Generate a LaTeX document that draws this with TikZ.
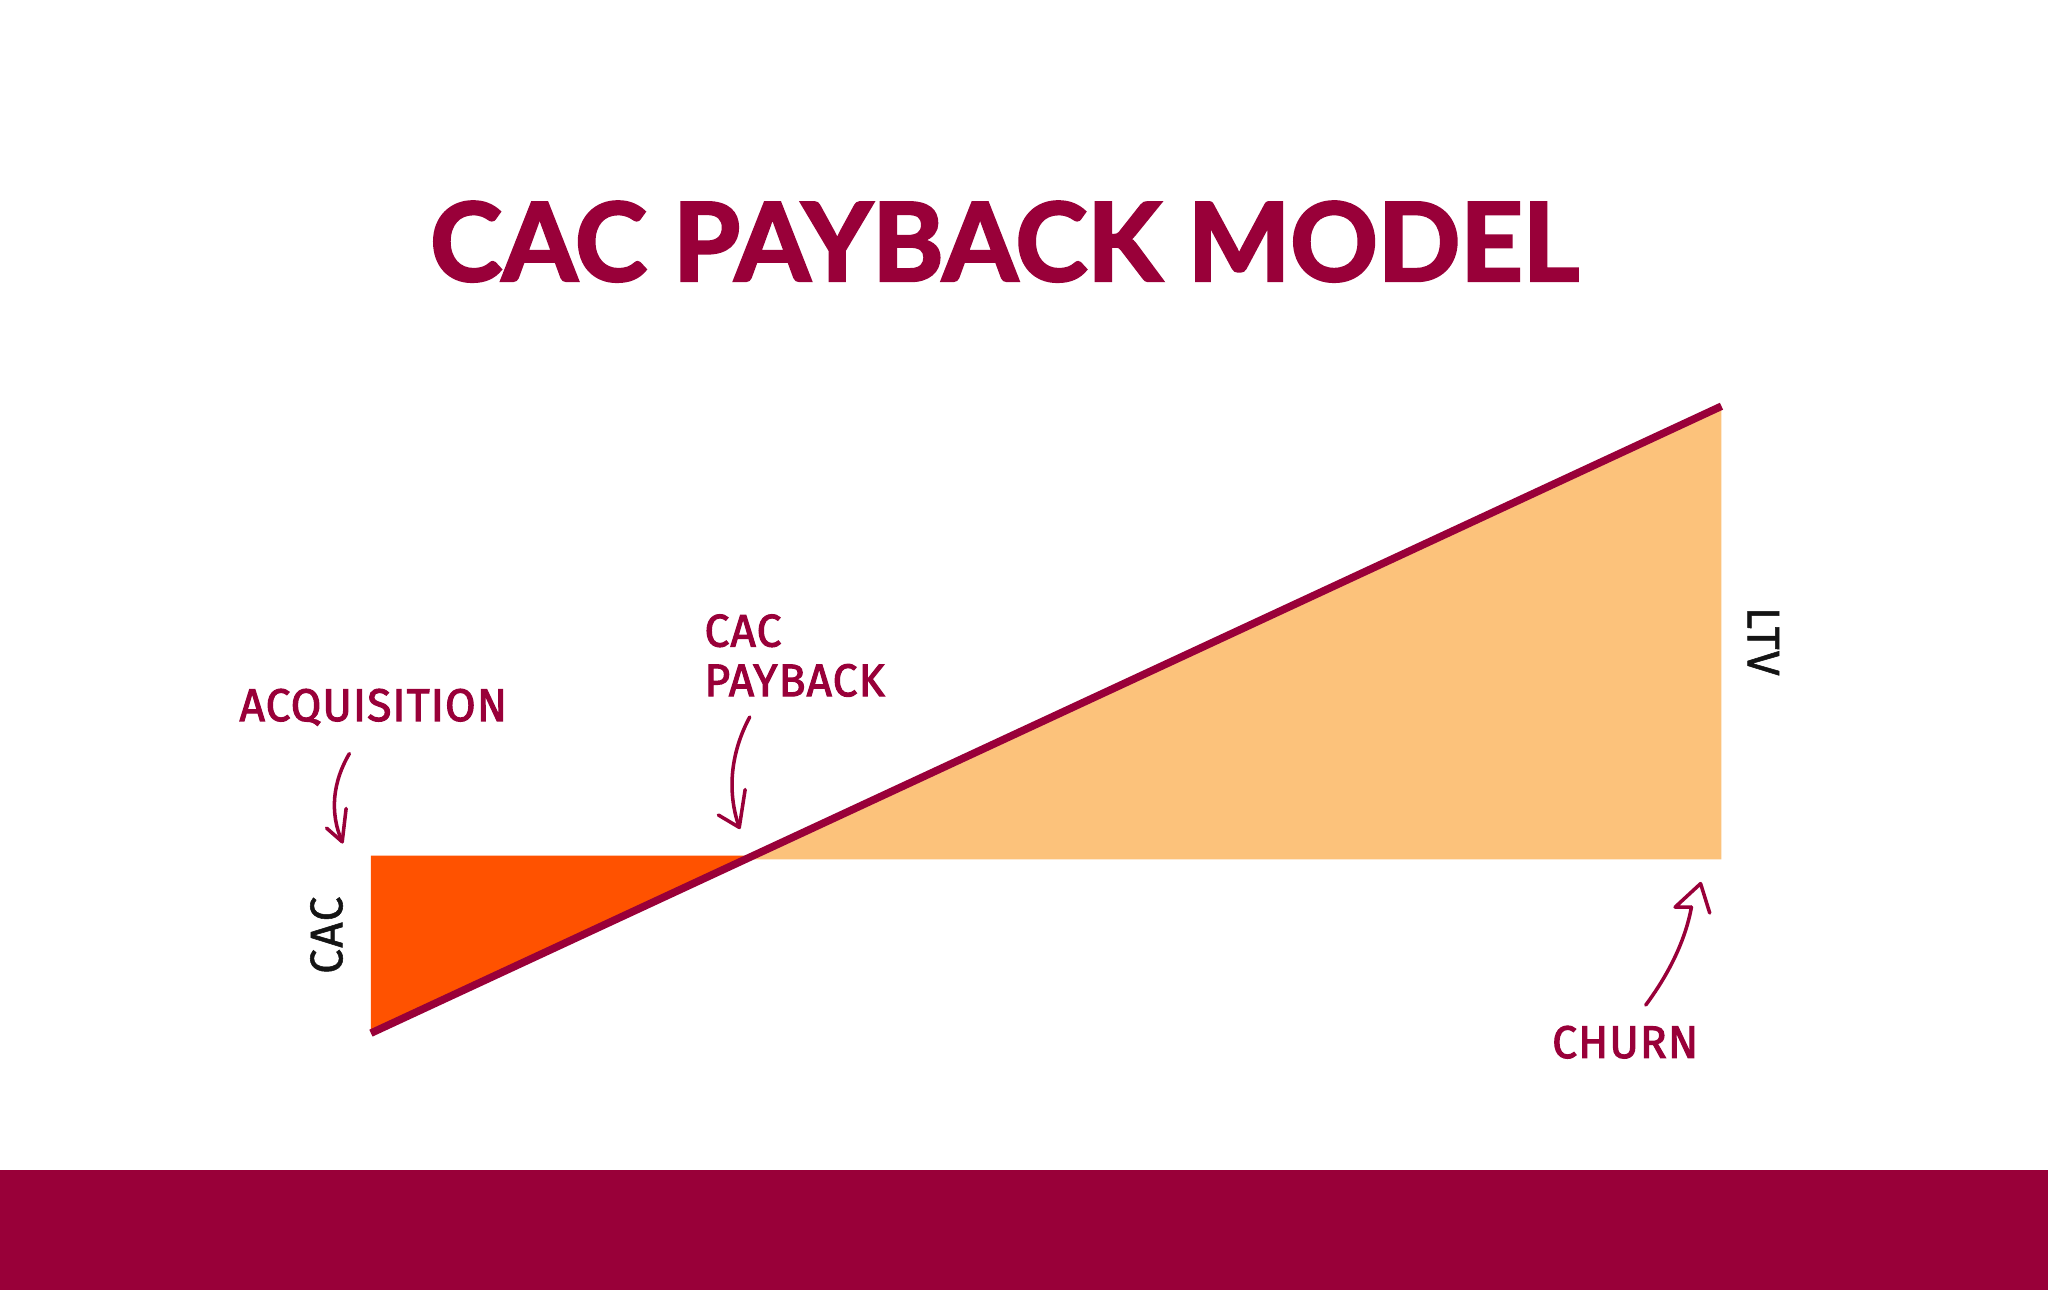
\documentclass[tikz,border=0pt]{standalone}
\usepackage{fontspec}
\setmainfont{Lato}
\newfontfamily\titlefont{Lato}[BoldFeatures={FakeBold=2.6}]
\newfontfamily\labfont{Fira Sans}[FakeStretch=0.97, LetterSpace=2.5, FakeBold=2.3]
\newfontfamily\axfont{Fira Sans}[FakeStretch=0.97, LetterSpace=3, FakeBold=1.2]
\definecolor{crim}{HTML}{990039}
\definecolor{cacor}{HTML}{FF5200}
\definecolor{peach}{HTML}{FCC27B}
\definecolor{ink}{HTML}{141414}
\tikzset{
  lab/.style={text=crim, inner sep=0pt, font=\labfont\fontsize{17.5}{19}\selectfont},
  axlab/.style={text=ink, inner sep=0pt, font=\axfont\fontsize{17.5}{19}\selectfont},
  hand/.style={draw=crim, line width=1.35pt, line cap=round, line join=round},
}
\begin{document}
\begin{tikzpicture}[x=0.5pt,y=-0.5pt]
\useasboundingbox (0,0) rectangle (1568,988);
\fill[white] (0,0) rectangle (1568,988);
\fill[crim] (0,896) rectangle (1568,988);

\node[anchor=base, text=crim, inner sep=0pt, font=\titlefont\bfseries\fontsize{41.5}{42}\selectfont] (title) at (769,215) {CAC PAYBACK MODEL};

\coordinate (s) at (284,791);
\coordinate (e) at (1318,311);
\coordinate (p) at (577,655);
\fill[cacor] (284,655) -- (p) -- (s) -- cycle;
\fill[peach] (p) -- (e) -- (1318,658) -- (577,658) -- cycle;
\draw[crim, line width=2.9pt] (s) -- (e);

\node[lab, anchor=base west] (acq) at (183,552) {ACQUISITION};
\node[lab, anchor=base west] (pay1) at (539,495) {CAC};
\node[lab, anchor=base west] (pay2) at (539,533) {PAYBACK};
\node[lab, anchor=base west] (churn) at (1188,810) {CHURN};
\node[axlab, rotate=90] (cac) at (250,716) {CAC};
\node[axlab, rotate=-90] (ltv) at (1350,491) {LTV};

% acquisition arrow
\coordinate (a0) at (267.5,577);
\coordinate (a1) at (262,644.5);
\draw[hand] (a0) .. controls (255,598) and (252,622) .. (a1);
\draw[hand] (250,634) -- (a1) -- (265,619);
% payback arrow
\coordinate (b0) at (574,549);
\coordinate (b1) at (566,633.5);
\draw[hand] (b0) .. controls (560,575) and (556,605) .. (b1);
\draw[hand] (550,624) -- (b1) -- (570.5,604.5);
% churn arrow
\coordinate (c0) at (1260,769.5);
\coordinate (c1) at (1295,694.5);
\draw[hand] (c0) .. controls (1276,748) and (1290,722) .. (c1);
\draw[hand] (c1) -- (1282.5,694.5) -- (1302,676.5) -- (1309,699);
\end{tikzpicture}
\end{document}
